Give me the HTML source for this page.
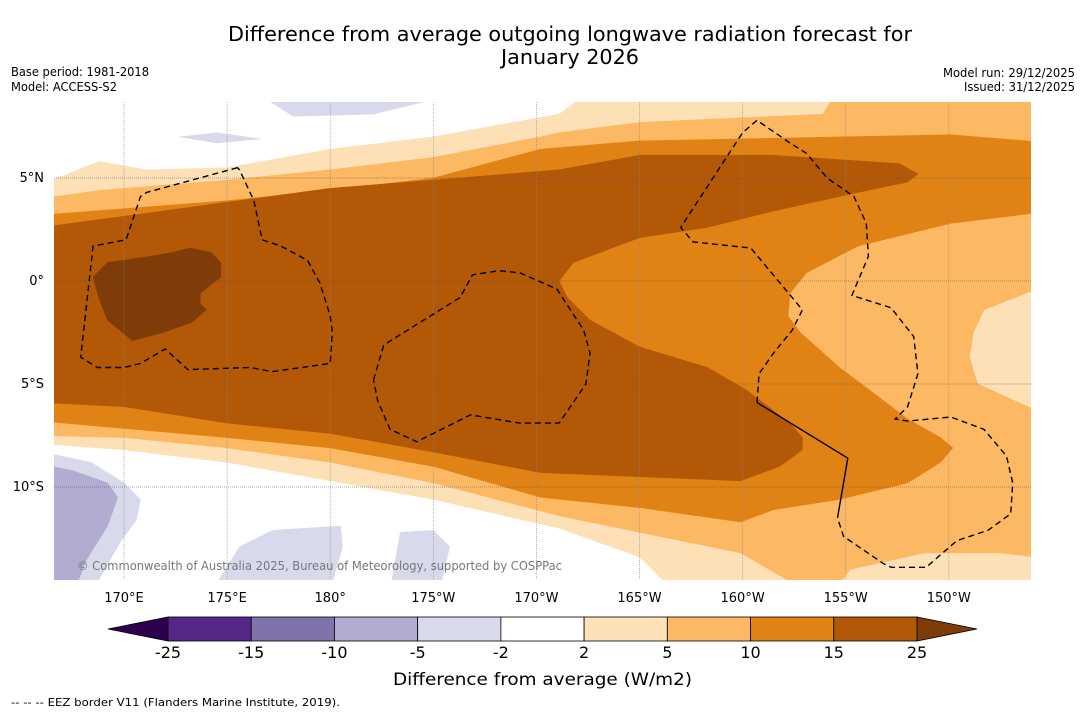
<!DOCTYPE html>
<html><head><meta charset="utf-8">
<style>
html,body{margin:0;padding:0;background:#fff;}
svg{display:block;font-family:"DejaVu Sans","Liberation Sans",sans-serif;}
</style></head>
<body>
<svg id="chart" width="1085" height="713" viewBox="0 0 1085 713">
  <text x="228" y="41" font-size="20" textLength="684" lengthAdjust="spacingAndGlyphs">Difference from average outgoing longwave radiation forecast for</text>
  <text x="501" y="64" font-size="20" textLength="138" lengthAdjust="spacingAndGlyphs">January 2026</text>
  <text x="11" y="76" font-size="12" textLength="138" lengthAdjust="spacingAndGlyphs">Base period: 1981-2018</text>
  <text x="11" y="91" font-size="12" textLength="106" lengthAdjust="spacingAndGlyphs">Model: ACCESS-S2</text>
  <text x="943" y="77" font-size="12" textLength="132" lengthAdjust="spacingAndGlyphs">Model run: 29/12/2025</text>
  <text x="964" y="91" font-size="12" textLength="111" lengthAdjust="spacingAndGlyphs">Issued: 31/12/2025</text>
  <defs><clipPath id="mapclip"><rect x="54" y="102" width="977" height="478"/></clipPath></defs>
  <g id="map" clip-path="url(#mapclip)"></g>
  <g id="axes"></g>
  <g id="cbar"></g>
  <text x="393" y="685" font-size="17" textLength="299" lengthAdjust="spacingAndGlyphs">Difference from average (W/m2)</text>
  <text x="11" y="706" font-size="11" textLength="329" lengthAdjust="spacingAndGlyphs">--  --  -- EEZ border V11 (Flanders Marine Institute, 2019).</text>
</svg>
<script>
// ---- data ----
const lonTicks = [170,175,180,185,190,195,200,205,210];
const lonTickLabels = ["170°E","175°E","180°","175°W","170°W","165°W","160°W","155°W","150°W"];
const latTicks = [5,0,-5,-10];
const latTickLabels = ["5°N","0°","5°S","10°S"];
const cbarLevels = [-25,-15,-10,-5,-2,2,5,10,15,25];
const cbarColors = ["#542788","#8073ac","#b2abd2","#d8daeb","#ffffff","#fee0b6","#fdb863","#e08214","#b35806"];
const cbarLow = "#2d004b", cbarHigh = "#7f3b08";

// contour-filled regions (lon east, lat)
const band2to5 = [[166,4.7],[168.8,5.8],[171.1,5.4],[175.0,5.5],[180.0,6.4],[185.0,7.0],[191.1,8.1],[192.6,9.2],[215,9.2],[215,-15],[196.6,-15],[195.0,-13.4],[191.1,-12.0],[185.0,-10.6],[180.0,-9.7],[175.0,-8.8],[170.0,-8.2],[166,-7.9]];
const band5to10 = [[166,4.0],[168.8,4.4],[175.0,4.9],[180.0,5.4],[185.0,6.0],[190.2,7.0],[191.1,7.2],[195.0,7.7],[203.9,8.1],[204.2,8.6],[204.3,9.2],[215,9.2],[215,-0.3],[214.5,-0.3],[211.7,-1.4],[211.2,-2.5],[211.0,-3.7],[211.4,-5.0],[214.5,-6.4],[215,-6.4],[215,-13.5],[212.5,-13.2],[208.8,-13.2],[205.2,-14.0],[204.5,-15],[203,-15],[199.9,-13.2],[195.0,-12.2],[191.1,-11.4],[185.0,-9.8],[180.0,-8.8],[175.0,-8.1],[170.0,-7.6],[166,-7.5]];
const band10to15 = [[166,3.2],[175.0,3.9],[180.0,4.4],[185.0,5.0],[190.2,6.4],[195.0,6.8],[210.1,7.1],[215,6.7],[215,3.4],[210.1,2.8],[205.6,1.7],[203.1,0.4],[202.3,-0.6],[202.2,-1.7],[202.8,-2.5],[204.7,-4.2],[206.3,-5.4],[208.0,-6.7],[209.6,-7.6],[210.2,-8.1],[209.6,-8.8],[208.0,-9.8],[204.7,-10.6],[201.5,-11.1],[199.9,-11.7],[195.0,-11.0],[190.2,-10.5],[185.0,-9.0],[180.0,-8.1],[175.0,-7.6],[166,-6.8]];
const band15to25 = [[166,2.6],[180.0,4.5],[185.0,4.9],[191.1,5.4],[195.0,6.1],[201.5,6.1],[207.6,5.7],[208.5,5.2],[208.0,4.8],[205.6,4.3],[201.5,3.4],[198.3,2.6],[195.0,2.1],[191.8,0.9],[191.1,0.0],[191.5,-0.8],[192.6,-1.9],[195.0,-3.2],[198.3,-4.2],[200.2,-5.3],[202.3,-6.9],[202.9,-7.6],[202.9,-8.2],[201.8,-9.0],[199.9,-9.7],[195.0,-9.5],[190.2,-9.3],[185.0,-8.3],[180.0,-7.4],[175.0,-6.9],[170.0,-6.1],[166,-5.9]];
const bandAbove25 = [[168.5,0.2],[169.2,0.9],[171.3,1.2],[172.4,1.4],[173.2,1.6],[174.2,1.4],[174.7,0.9],[174.7,0.2],[173.7,-0.6],[173.7,-1.1],[174.0,-1.4],[173.3,-2.0],[171.9,-2.5],[170.4,-2.9],[169.2,-1.9],[168.8,-0.9]];
const negTopBlob = [[176.3,9.2],[178.2,8.0],[182.1,8.1],[186.6,9.2]];
const negSmallBlob = [[172.7,7.0],[174.5,7.2],[176.6,6.9],[174.5,6.7]];
const negBottomLeft = [[166,-8.3],[168.4,-8.8],[170.0,-9.8],[170.8,-10.6],[170.6,-11.6],[169.8,-12.7],[168.5,-15],[166,-15]];
const negBottomLeftCore = [[166,-8.9],[167.5,-9.2],[169.2,-9.8],[169.7,-10.5],[169.2,-11.9],[168.2,-13.5],[167.6,-15],[166,-15]];
const negBottomBlob1 = [[174.3,-15],[175.6,-12.9],[177.2,-12.1],[180.5,-11.9],[180.6,-12.9],[180.0,-15]];
const negBottomBlob2 = [[182.9,-15],[183.4,-12.2],[185.0,-12.1],[185.8,-12.9],[185.3,-15]];

// EEZ borders
const eezWest = [[175.5,5.5],[171.1,4.3],[170.8,4.1],[170.1,2.0],[168.5,1.7],[167.9,-3.7],[168.7,-4.2],[170.0,-4.2],[170.8,-4.0],[172.0,-3.3],[173.1,-4.3],[176.1,-4.2],[177.2,-4.4],[180.0,-4.0],[180.1,-2.5],[180.0,-1.7],[179.5,-0.1],[178.9,1.0],[177.6,1.7],[176.7,2.0],[176.3,3.9],[175.6,5.4]];
const eezCentral = [[182.1,-4.8],[182.6,-3.1],[186.3,-0.8],[186.9,0.3],[188.2,0.5],[189.2,0.4],[191.0,-0.4],[192.3,-2.4],[192.6,-3.5],[192.4,-5.0],[191.1,-6.9],[189.2,-6.9],[186.8,-6.5],[184.2,-7.8],[182.9,-7.2],[182.3,-5.8],[182.1,-4.8]];
const eezLineNorth = [[200.7,-5.9],[200.8,-4.5],[201.5,-3.5],[202.4,-2.4],[202.9,-1.4],[200.4,1.6],[197.6,1.9],[197.0,2.6],[200.0,7.2],[200.7,7.8],[202.3,6.7],[203.1,6.2],[204.1,5.0],[205.4,4.1],[206.0,2.8],[206.1,1.2],[205.3,-0.7],[207.2,-1.3],[208.3,-2.7],[208.5,-4.5],[208.0,-6.1],[207.4,-6.7],[208.0,-6.8],[210.1,-6.6],[211.7,-7.2],[212.8,-8.5],[213.1,-9.8],[213.0,-11.3],[211.9,-12.1],[210.4,-12.6],[208.9,-13.9],[207.2,-13.9],[206.8,-13.7],[204.9,-12.4],[204.6,-11.5]];
const eezSolid = [[200.7,-5.9],[205.1,-8.6],[204.6,-11.5]];

// ---- axis functions ----
const X0 = 124, LON0 = 170, PXLON = 20.62;
const Y0 = 281, PXLAT = 20.6;
function xOf(lon){ return X0 + (lon - LON0) * PXLON; }
function yOf(lat){ return Y0 - lat * PXLAT; }
const NS = "http://www.w3.org/2000/svg";
function mk(tag, attrs, parent){ const e = document.createElementNS(NS, tag); for (const k in attrs) e.setAttribute(k, attrs[k]); parent.appendChild(e); return e; }
function pts(arr){ return arr.map(p => xOf(p[0]).toFixed(1) + "," + yOf(p[1]).toFixed(1)).join(" "); }

const map = document.getElementById("map");
let bg = mk("rect", {x:54, y:102, width:977, height:478, fill:"#ffffff"}, map);



const fills = [
  [band2to5, "#fee0b6", "contour-2-to-5"],
  [band5to10, "#fdb863", "contour-5-to-10"],
  [band10to15, "#e08214", "contour-10-to-15"],
  [band15to25, "#b35806", "contour-15-to-25"],
  [bandAbove25, "#7f3b08", "contour-above-25"],
  [negTopBlob, "#d8daeb", "contour-neg-top"],
  [negSmallBlob, "#d8daeb", "contour-neg-small"],
  [negBottomLeft, "#d8daeb", "contour-neg-bottom-left"],
  [negBottomLeftCore, "#b2abd2", "contour-neg-bottom-left-core"],
  [negBottomBlob1, "#d8daeb", "contour-neg-bottom-1"],
  [negBottomBlob2, "#d8daeb", "contour-neg-bottom-2"]
];
fills.forEach(f => {
  const p = mk("polygon", {points: pts(f[0]), fill: f[1], stroke: f[1], "stroke-width": 0.5}, map);
  
  
});

// grid
lonTicks.forEach((lon, i) => {
  const l = mk("line", {x1:xOf(lon), x2:xOf(lon), y1:102, y2:580, stroke:"#888", "stroke-width":0.6, "stroke-dasharray":"1,1"}, map);
  
  
});
latTicks.forEach((lat, i) => {
  const l = mk("line", {x1:54, x2:1031, y1:yOf(lat), y2:yOf(lat), stroke:"#555", "stroke-width":0.6, "stroke-dasharray":"1,1"}, map);
  
  
});

// EEZ
[[eezWest,"eez-west",true],[eezCentral,"eez-central",false],[eezLineNorth,"eez-line-islands",false]].forEach(e => {
  const el = mk(e[2] ? "polygon" : "polyline", {points: pts(e[0]), fill:"none", stroke:"#000", "stroke-width":1.4, "stroke-dasharray":"6,4"}, map);
  
  
});
const sol = mk("polyline", {points: pts(eezSolid), fill:"none", stroke:"#000", "stroke-width":1.4}, map);



const cp = mk("text", {x:77, y:570, "font-size":12, fill:"#777", textLength:485, lengthAdjust:"spacingAndGlyphs"}, map);
cp.textContent = "© Commonwealth of Australia 2025, Bureau of Meteorology, supported by COSPPac";



// axes labels
const axes = document.getElementById("axes");
lonTicks.forEach((lon, i) => {
  const t = mk("text", {x:xOf(lon), y:602, "font-size":13, "text-anchor":"middle"}, axes);
  t.textContent = lonTickLabels[i];
  
  
});
latTicks.forEach((lat, i) => {
  const t = mk("text", {x:44, y:yOf(lat)+4, "font-size":13, "text-anchor":"end"}, axes);
  t.textContent = latTickLabels[i];
  
  
});

// colorbar
const cb = document.getElementById("cbar");
const CB_L = 168, CB_R = 917, CB_T = 617, CB_B = 641, CB_EXT = 60;
const bw = (CB_R - CB_L) / cbarColors.length;
const lt = mk("polygon", {points: `${CB_L},${CB_T} ${CB_L-CB_EXT},${(CB_T+CB_B)/2} ${CB_L},${CB_B}`, fill: cbarLow, stroke:"#000", "stroke-width":0.8}, cb);


const rt = mk("polygon", {points: `${CB_R},${CB_T} ${CB_R+CB_EXT},${(CB_T+CB_B)/2} ${CB_R},${CB_B}`, fill: cbarHigh, stroke:"#000", "stroke-width":0.8}, cb);


cbarColors.forEach((c, i) => {
  const r = mk("rect", {x: CB_L + i*bw, y: CB_T, width: bw, height: CB_B-CB_T, fill: c, stroke:"#000", "stroke-width":0.8}, cb);
  
  
});
cbarLevels.forEach((v, i) => {
  const t = mk("text", {x: CB_L + i*bw, y: 658, "font-size":16, "text-anchor":"middle"}, cb);
  t.textContent = String(v);
  
  
});
</script>
</body></html>
